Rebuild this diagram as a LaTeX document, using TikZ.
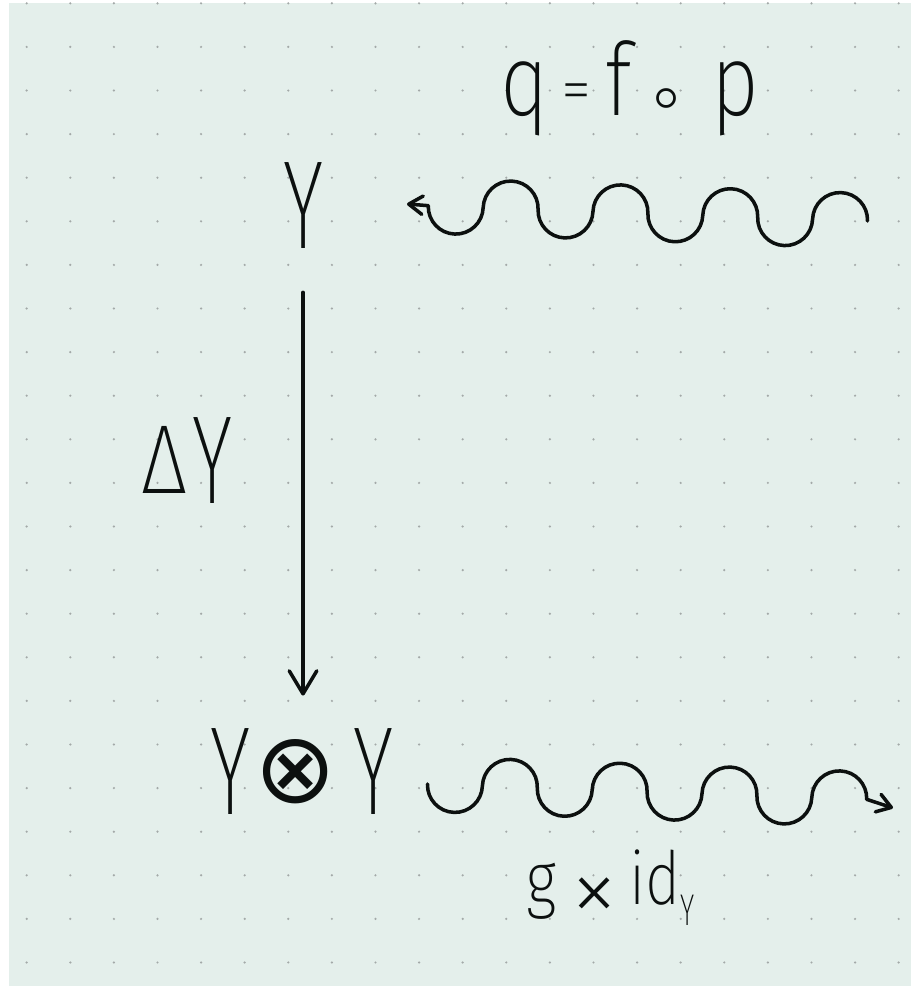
\documentclass[tikz,border=0pt]{standalone}
\usepackage{xcolor}
\usepackage{fontspec}
\usepackage{tikz}
\usetikzlibrary{positioning, arrows.meta}
\newfontfamily\handfont{Fira Sans}[UprightFont=* ExtraLight, FakeStretch=0.62]
\newfontfamily\handwide{Fira Sans}[UprightFont=* ExtraLight, FakeStretch=0.82]
\newfontfamily\handplain{Fira Sans}[UprightFont=* ExtraLight]
\newfontfamily\symfont{DejaVu Sans}
\newfontfamily\symlight{DejaVu Sans}[UprightFont=* ExtraLight]
\definecolor{paper}{RGB}{228,239,235}
\definecolor{dotgrey}{RGB}{163,169,168}
\definecolor{ink}{RGB}{12,16,15}

\begin{document}
\begin{tikzpicture}[
  hand/.style={font=\handfont\fontsize{82}{82}\selectfont, text=ink,
               inner sep=0pt, anchor=base},
  handmid/.style={hand, font=\handwide\fontsize{66}{66}\selectfont},
  handsmall/.style={hand, font=\handwide\fontsize{48}{48}\selectfont},
  arrow/.style={-{Straight Barb[length=15pt, width=18pt, round]},
                line width=2.3pt, draw=ink, line cap=round},
  wave/.style={-{Straight Barb[length=9pt, width=12pt, round]},
               line width=2.3pt, draw=ink, line cap=round, line join=round},
]

  \useasboundingbox (0,0) rectangle (21.009,22.638);
  \fill[paper] (0.206,0.023) rectangle (20.894,22.569);
  \foreach \i in {0,...,20}
    \foreach \j in {0,...,22}
      \fill[dotgrey] (0.612+\i,22.562-\j) circle (0.028);

  \node[hand] (Ytop) at (6.95,16.93) {Y};
  \node[hand] (YY) at (6.927,3.945)
    {Y\hspace{3pt}\raisebox{8.4pt}{\symfont\fontsize{64}{64}\selectfont ⊗}\hspace{11pt}Y};
  \node[hand] (dlabel) at (4.289,11.10)
    {\raisebox{6pt}{\handwide\fontsize{64}{64}\selectfont Δ}\hspace{3pt}Y};

  \node[handmid] (qlabel) at (14.45,20.0)
    {q\hspace{8pt}\raisebox{3pt}{\handplain\fontsize{40}{40}\selectfont =}\hspace{9pt}f\hspace{8pt}\raisebox{-4pt}{\symlight\fontsize{48}{48}\selectfont ∘}\hspace{14pt}p};
  \node[handsmall] (glabel) at (14.01,1.881)
    {g\hspace{9pt}\raisebox{-12pt}{\handplain\fontsize{64}{64}\selectfont ×}\hspace{7pt}id\raisebox{-13.7pt}{\handfont\fontsize{29}{29}\selectfont Y}};

  \coordinate (qtail) at (19.897,17.569);
  \coordinate (qtip) at (9.335,17.959);
  \coordinate (gstart) at (9.805,4.656);
  \coordinate (gtip) at (20.482,4.106);

  \draw[arrow, shorten <=0.99cm, shorten >=0.76cm] (Ytop.south) -- (Ytop.south |- YY.north);
  \draw[wave] (qtail) {[rotate=-2] \foreach \k in {1,...,4}
      {arc[start angle=0, end angle=180, radius=0.63]
       arc[start angle=0, end angle=-180, radius=0.63]}} -- (qtip);
  \draw[wave] (gstart) {[rotate=-2] \foreach \k in {1,...,4}
      {arc[start angle=180, end angle=360, radius=0.63]
       arc[start angle=180, end angle=0, radius=0.63]}} -- (gtip);

\end{tikzpicture}
\end{document}
